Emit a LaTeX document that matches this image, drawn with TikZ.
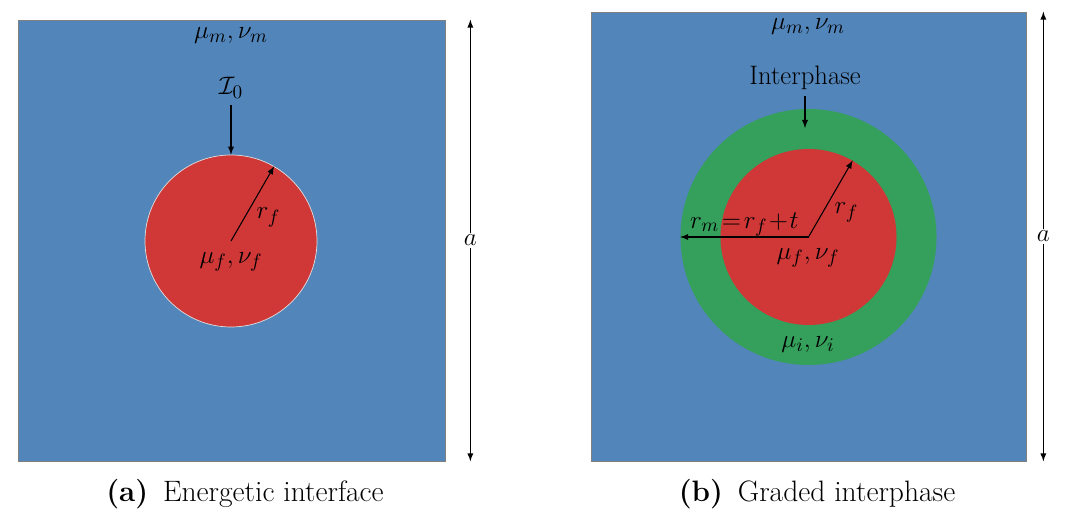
\documentclass[tikz,border=0pt]{standalone}
\usepackage{amsmath, amssymb}
\usepackage{tikz}
\usetikzlibrary{arrows, positioning}

\definecolor{matblue}{RGB}{82,133,186}
\definecolor{fibred}{RGB}{208,55,55}
\definecolor{intgreen}{RGB}{53,160,92}

\tikzset{
  matbox/.style={draw=gray, fill=matblue, inner sep=0pt},
  fiber/.style={circle, fill=fibred, inner sep=0pt},
  interph/.style={circle, fill=intgreen, inner sep=0pt},
  lbl/.style={font=\fontsize{15.2}{18}\selectfont},
  caption/.style={font=\fontsize{16.8}{20}\selectfont},
  dimarrow/.style={<->, >=latex, semithick},
  ptr/.style={->, >=latex, semithick}
}

\begin{document}
\begin{tikzpicture}
\useasboundingbox (0,0) rectangle (21.6,10.46);
% (a) the matrix with a bare fiber
\node[matbox, minimum width=8.54cm, minimum height=8.82cm] (boxA) at (4.63,5.65) {};
\node[fiber, draw=white!75!gray, minimum size=3.44cm] (fibA) at (4.62,5.64) {};
\node[lbl] (mmA) at (4.62,9.74) {$\mu_m,\nu_m$};
\node[lbl] (i0A) at (4.62,8.7) {$\mathcal{I}_0$};
\node[lbl] (mfA) at (4.62,5.22) {$\mu_f,\nu_f$};
% the arrows of (a)
\draw[ptr] (i0A) -- (fibA.north);
\draw[ptr] (fibA.center) -- node[lbl, anchor=north west, pos=0.5, inner sep=2pt] (rfA) {$r_f$} (fibA.60);
\draw[dimarrow] ([xshift=0.5cm]boxA.north east) -- node[lbl, fill=white, inner sep=1pt] (aA) {$a$} ([xshift=0.5cm]boxA.south east);
\node[caption] (capA) at (4.9,0.58) {\textbf{(a)}\enspace Energetic interface};
%
% (b) the matrix with a fiber and its interphase
\node[matbox, minimum width=8.7cm, minimum height=8.98cm] (boxB) at (16.17,5.73) {};
\node[interph, minimum size=5.12cm] (ringB) at (16.17,5.72) {};
\node[fiber, minimum size=3.52cm] (fibB) at (16.17,5.72) {};
\node[lbl] (mmB) at (16.16,9.92) {$\mu_m,\nu_m$};
\node[lbl] (interB) at (16.1,8.9) {Interphase};
\node[lbl] (mfB) at (16.16,5.3) {$\mu_f,\nu_f$};
\node[lbl] (miB) at (16.16,3.56) {$\mu_i,\nu_i$};
\coordinate (midB) at (16.1,7.9);
% the arrows of (b)
\draw[ptr] (interB.south) -- (midB);
\draw[ptr] (fibB.center) -- node[lbl, anchor=north west, pos=0.5, inner sep=2pt] (rfB) {$r_f$} (fibB.60);
\draw[ptr] (fibB.center) -- node[lbl, above, inner sep=0pt] (rmB) {$r_m\!=\!r_f\!+\!t$} (ringB.west);
\draw[dimarrow] ([xshift=0.34cm]boxB.north east) -- node[lbl, fill=white, inner sep=1pt] (aB) {$a$} ([xshift=0.34cm]boxB.south east);
\node[caption] (capB) at (16.34,0.58) {\textbf{(b)}\enspace Graded interphase};
%
\end{tikzpicture}
\end{document}
